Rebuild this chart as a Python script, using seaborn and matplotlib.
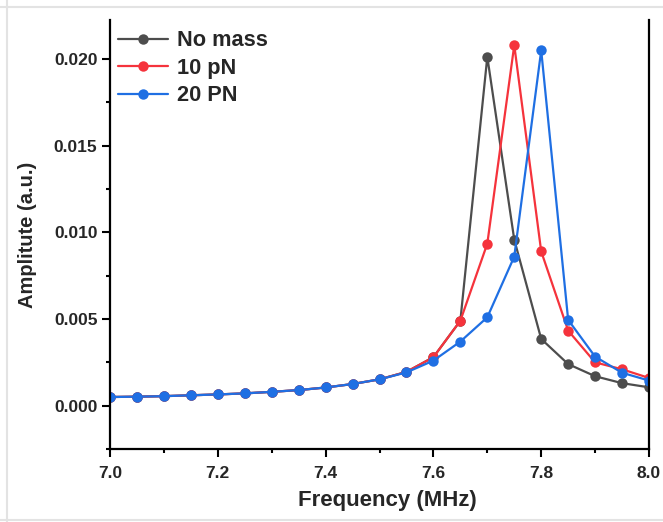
import numpy as np
import pandas as pd
import matplotlib
matplotlib.use("Agg")
import matplotlib.pyplot as plt
import seaborn as sns
from matplotlib.ticker import MultipleLocator
from matplotlib.lines import Line2D

freq = [7.00, 7.05, 7.10, 7.15, 7.20, 7.25, 7.30, 7.35, 7.40, 7.45, 7.50,
        7.55, 7.60, 7.65, 7.70, 7.75, 7.80, 7.85, 7.90, 7.95, 8.00]
no_mass = [0.00050, 0.00052, 0.00055, 0.00060, 0.00065, 0.00071, 0.00080, 0.00090,
           0.00105, 0.00125, 0.00152, 0.00195, 0.00280, 0.00490, 0.02013, 0.00958,
           0.00385, 0.00240, 0.00170, 0.00130, 0.00106]
pn10 = [0.00050, 0.00052, 0.00055, 0.00060, 0.00065, 0.00071, 0.00080, 0.00090,
        0.00105, 0.00125, 0.00152, 0.00195, 0.00280, 0.00490, 0.00935, 0.02080,
        0.00890, 0.00433, 0.00250, 0.00210, 0.00160]
pn20 = [0.00050, 0.00052, 0.00055, 0.00060, 0.00065, 0.00071, 0.00080, 0.00090,
        0.00105, 0.00125, 0.00152, 0.00192, 0.00260, 0.00370, 0.00510, 0.00860,
        0.02050, 0.00495, 0.00283, 0.00190, 0.00145]
series = ["No mass", "10 pN", "20 PN"]
colors = ["#4d4d4d", "#f5333c", "#1f6fe3"]
xticks = [7.0, 7.2, 7.4, 7.6, 7.8, 8.0]
xticklabels = ["7.0", "7.2", "7.4", "7.6", "7.8", "8.0"]
yticks = [0.0, 0.005, 0.010, 0.015, 0.020]
yticklabels = ["0.000", "0.005", "0.010", "0.015", "0.020"]

df = pd.concat([
    pd.DataFrame({"Frequency": freq, "Amplitude": vals, "Series": name})
    for name, vals in zip(series, [no_mass, pn10, pn20])
])

sns.set_style("ticks")
plt.rcParams["font.family"] = ["Liberation Sans", "DejaVu Sans"]
plt.rcParams["font.weight"] = "bold"

fig = plt.figure(figsize=(6.63, 5.22), dpi=100)
ax = fig.add_axes([0.1659, 0.1398, 0.8130, 0.8218])

sns.lineplot(data=df, x="Frequency", y="Amplitude", hue="Series",
             hue_order=series, palette=colors, marker="o", markersize=7.5,
             markeredgewidth=0, linewidth=1.6, ax=ax, legend=False)

ax.set_xlim(7.0, 8.0)
ax.set_ylim(-0.0025, 0.02225)
ax.xaxis.set_minor_locator(MultipleLocator(0.1))
ax.yaxis.set_minor_locator(MultipleLocator(0.0025))
ax.set_xticks(xticks)
ax.set_xticklabels(xticklabels)
ax.set_yticks(yticks)
ax.set_yticklabels(yticklabels)

ax.tick_params(axis="both", which="major", direction="out", length=6, width=1.5,
               labelsize=12.5, color="black")
ax.tick_params(axis="x", which="major", pad=6)
ax.tick_params(axis="y", which="major", pad=3)
ax.tick_params(axis="both", which="minor", direction="out", length=3, width=1.5,
               color="black")
for lab in ax.get_xticklabels() + ax.get_yticklabels():
    lab.set_fontweight("bold")

for side in ["left", "bottom", "right"]:
    ax.spines[side].set_linewidth(1.6)
    ax.spines[side].set_color("black")
ax.spines["top"].set_visible(False)

ax.set_xlabel("Frequency (MHz)", fontsize=16, fontweight="bold")
ax.xaxis.set_label_coords(0.515, -0.095)
ax.set_ylabel("Amplitute (a.u.)", fontsize=14.5, fontweight="bold", labelpad=12)

handles = [Line2D([0], [0], color=c, lw=1.6, marker="o", markersize=7.5,
                  markeredgewidth=0) for c in colors]
leg = ax.legend(handles, series, loc="upper left", frameon=False,
                bbox_to_anchor=(0.0, 0.995), handlelength=2.3, handletextpad=0.4,
                labelspacing=0.3, borderaxespad=0.0, borderpad=0.37,
                prop={"size": 15.7, "weight": "bold"})

# light screenshot border
fig.add_artist(Line2D([0.0, 1.0], [1 - 7 / 522, 1 - 7 / 522], color="#e3e3e3", lw=1.5,
                      transform=fig.transFigure))
fig.add_artist(Line2D([7 / 663, 7 / 663], [0.0, 1.0], color="#e3e3e3", lw=1.5,
                      transform=fig.transFigure))
fig.add_artist(Line2D([0.0, 1.0], [2 / 522, 2 / 522], color="#e3e3e3", lw=1.5,
                      transform=fig.transFigure))

fig.savefig("out.png", dpi=100)
